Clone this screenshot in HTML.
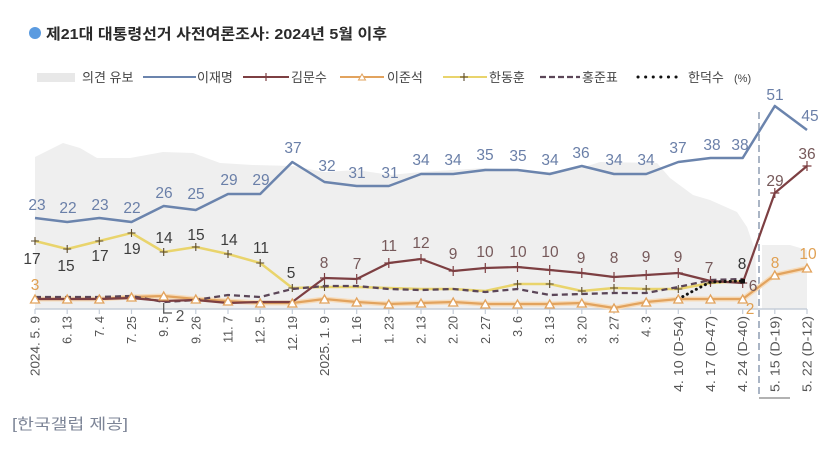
<!DOCTYPE html>
<html>
<head>
<meta charset="utf-8">
<style>
  html,body{margin:0;padding:0;background:#fff;}
  svg{display:block;}
  text{font-family:"Liberation Sans","Noto Sans CJK KR",sans-serif;}
</style>
</head>
<body>
<svg width="835" height="453" viewBox="0 0 835 453" xmlns="http://www.w3.org/2000/svg">
  <rect width="835" height="453" fill="#fff"/>

  <!-- Title -->
  <circle cx="35" cy="33" r="6" fill="#5b9be0"/>
  <text x="46" y="39" font-size="15" font-weight="bold" fill="#2a2a2a" textLength="341" lengthAdjust="spacingAndGlyphs">제21대 대통령선거 사전여론조사: 2024년 5월 이후</text>

  <!-- Legend -->
  <g font-size="13" fill="#444">
    <rect x="37" y="73" width="38" height="9" fill="#e8e8e8"/>
    <text x="82" y="82">의견 유보</text>
    <line x1="143" y1="77" x2="196" y2="77" stroke="#6b84ad" stroke-width="2"/>
    <text x="197" y="82">이재명</text>
    <line x1="243" y1="77" x2="289" y2="77" stroke="#7d3f42" stroke-width="2"/>
    <path d="M266,73 V81" stroke="#7d3f42" stroke-width="1.2"/>
    <text x="291" y="82">김문수</text>
    <line x1="340" y1="77" x2="384" y2="77" stroke="#e2a35e" stroke-width="2"/>
    <polygon points="358.5,80 365.5,80 362,74" fill="#fff" stroke="#e2a35e" stroke-width="1"/>
    <text x="387" y="82">이준석</text>
    <line x1="443" y1="77" x2="487" y2="77" stroke="#e9d46c" stroke-width="2"/>
    <path d="M464,73 V81 M460,77 H468" stroke="#5a4a30" stroke-width="1.1"/>
    <text x="489" y="82">한동훈</text>
    <line x1="540" y1="77" x2="580" y2="77" stroke="#5b4658" stroke-width="2.3" stroke-dasharray="6 3"/>
    <text x="582" y="82">홍준표</text>
    <line x1="638" y1="77" x2="680" y2="77" stroke="#111" stroke-width="3" stroke-dasharray="0.1 7.5" stroke-linecap="round"/>
    <text x="688" y="82">한덕수</text>
    <text x="734" y="82" font-size="11">(%)</text>
  </g>

  <!-- Gray "의견 유보" area -->
  <polygon fill="#efefef" points="35,157 63,143 80,148 97,158 130,158 163,152 193,153 220,163 253,165 293,166 324,172 357,170 390,175 421,172 453,170 485,168 518,170 550,172 581,168 600,162 657,163 670,178 693,195 710,200 737,212 747,227 755,250 758,309 35,309"/>
  <polygon fill="#efefef" points="762,245 790,245 807,250 807,309 762,309"/>

  <!-- vertical dashed separator -->
  <line x1="759" y1="112" x2="759" y2="398" stroke="#aab5c5" stroke-width="2" stroke-dasharray="7 4"/>
  <path d="M759,398 H790" stroke="#666" stroke-width="1"/>

  <!-- X axis -->
  <line x1="35" y1="309" x2="807" y2="309" stroke="#c5cdd8" stroke-width="1.5"/>
  <g stroke="#c5cdd8" stroke-width="1.2">
    <path d="M35,309V314M67.2,309V314M99.3,309V314M131.5,309V314M163.7,309V314M195.8,309V314M228,309V314M260.2,309V314M292.3,309V314M324.5,309V314M356.7,309V314M388.8,309V314M421,309V314M453.2,309V314M485.3,309V314M517.5,309V314M549.7,309V314M581.8,309V314M614,309V314M646.2,309V314M678.3,309V314M710.5,309V314M742.7,309V314M774.8,309V314M807,309V314"/>
  </g>

  <!-- Tick labels -->
  <g font-size="12.5" fill="#555" text-anchor="end">
    <text transform="translate(39.5,316) rotate(-90)" textLength="60" lengthAdjust="spacingAndGlyphs">2024. 5. 9</text>
    <text transform="translate(71.7,316) rotate(-90)">6. 13</text>
    <text transform="translate(103.8,316) rotate(-90)">7. 4</text>
    <text transform="translate(136,316) rotate(-90)">7. 25</text>
    <text transform="translate(168.2,316) rotate(-90)">9. 5</text>
    <text transform="translate(200.3,316) rotate(-90)">9. 26</text>
    <text transform="translate(232.5,316) rotate(-90)">11. 7</text>
    <text transform="translate(264.7,316) rotate(-90)">12. 5</text>
    <text transform="translate(296.8,316) rotate(-90)">12. 19</text>
    <text transform="translate(329,316) rotate(-90)" textLength="60" lengthAdjust="spacingAndGlyphs">2025. 1. 9</text>
    <text transform="translate(361.2,316) rotate(-90)">1. 16</text>
    <text transform="translate(393.3,316) rotate(-90)">1. 23</text>
    <text transform="translate(425.5,316) rotate(-90)">2. 13</text>
    <text transform="translate(457.7,316) rotate(-90)">2. 20</text>
    <text transform="translate(489.8,316) rotate(-90)">2. 27</text>
    <text transform="translate(522,316) rotate(-90)">3. 6</text>
    <text transform="translate(554.2,316) rotate(-90)">3. 13</text>
    <text transform="translate(586.3,316) rotate(-90)">3. 20</text>
    <text transform="translate(618.5,316) rotate(-90)">3. 27</text>
    <text transform="translate(650.7,316) rotate(-90)">4. 3</text>
    <text transform="translate(682.8,316) rotate(-90)" textLength="76" lengthAdjust="spacingAndGlyphs">4. 10 (D-54)</text>
    <text transform="translate(715,316) rotate(-90)" textLength="76" lengthAdjust="spacingAndGlyphs">4. 17 (D-47)</text>
    <text transform="translate(747.2,316) rotate(-90)" textLength="76" lengthAdjust="spacingAndGlyphs">4. 24 (D-40)</text>
    <text transform="translate(779.3,316) rotate(-90)" textLength="76" lengthAdjust="spacingAndGlyphs">5. 15 (D-19)</text>
    <text transform="translate(811.5,316) rotate(-90)" textLength="76" lengthAdjust="spacingAndGlyphs">5. 22 (D-12)</text>
  </g>

  <!-- 이준석 (orange) -->
  <polyline fill="none" stroke="#f6dcbc" stroke-width="5" stroke-linejoin="round" points="35,299 67.2,299 99.3,299 131.5,297 163.7,296 195.8,299 228,301 260.2,303 292.3,303 324.5,299 356.7,302 388.8,304 421,303 453.2,302 485.3,304 517.5,304 549.7,304 581.8,303 614,308 646.2,302 678.3,299 710.5,299 742.7,299 774.8,275 807,268"/>
  <polyline fill="none" stroke="#e2a35e" stroke-width="2.2" stroke-linejoin="round" points="35,299 67.2,299 99.3,299 131.5,297 163.7,296 195.8,299 228,301 260.2,303 292.3,303 324.5,299 356.7,302 388.8,304 421,303 453.2,302 485.3,304 517.5,304 549.7,304 581.8,303 614,308 646.2,302 678.3,299 710.5,299 742.7,299 774.8,275 807,268"/>

  <!-- 한동훈 (yellow) -->
  <polyline fill="none" stroke="#e9d46c" stroke-width="2.5" stroke-linejoin="round" points="35,241 67.2,249 99.3,241 131.5,233 163.7,252 195.8,247 228,254 260.2,263 292.3,288 324.5,287 356.7,287 388.8,288 421,289 453.2,289 485.3,291 517.5,284 549.7,284 581.8,291 614,288 646.2,289 678.3,289 710.5,283 742.7,281"/>
  <path stroke="#5a4a30" stroke-width="1.1" fill="none" d="M35,237v8M31,241h8 M67.2,245v8M63.2,249h8 M99.3,237v8M95.3,241h8 M131.5,229v8M127.5,233h8 M163.7,248v8M159.7,252h8 M195.8,243v8M191.8,247h8 M228,250v8M224,254h8 M260.2,259v8M256.2,263h8 M292.3,284v8M288.3,288h8 M324.5,283v8M320.5,287h8 M517.5,280v8M513.5,284h8 M549.7,280v8M545.7,284h8 M581.8,287v8M577.8,291h8 M614,284v8M610,288h8 M646.2,285v8M642.2,289h8 M678.3,285v8M674.3,289h8 M710.5,279v8M706.5,283h8"/>

  <!-- 홍준표 (dashed) -->
  <polyline fill="none" stroke="#5b4658" stroke-width="2.3" stroke-dasharray="6 4" stroke-linejoin="round" points="35,297 67.2,297 99.3,297 131.5,296 163.7,302 195.8,300 228,295 260.2,297 292.3,289 324.5,286 356.7,286 388.8,289 421,290 453.2,289 485.3,292 517.5,289 549.7,295 581.8,294 614,293 646.2,293 678.3,287 710.5,280 742.7,279"/>

  <!-- 김문수 (dark red) -->
  <polyline fill="none" stroke="#7d3f42" stroke-width="2.2" stroke-linejoin="round" points="35,299 67.2,299 99.3,299 131.5,298 163.7,301 195.8,300 228,303 260.2,302 292.3,302 324.5,278 356.7,279 388.8,263 421,259 453.2,271 485.3,268 517.5,267 549.7,270 581.8,273 614,277 646.2,275 678.3,273 710.5,281 742.7,283 774.8,193 807,166"/>
  <path stroke="#7d3f42" stroke-width="1.2" fill="none" d="M324.5,273v10M320,278h9 M356.7,274v10M352.2,279h9 M388.8,258v10M384.3,263h9 M421,254v10M416.5,259h9 M453.2,266v10M448.7,271h9 M485.3,263v10M480.8,268h9 M517.5,262v10M513,267h9 M549.7,265v10M545.2,270h9 M581.8,268v10M577.3,273h9 M614,272v10M609.5,277h9 M646.2,270v10M641.7,275h9 M678.3,268v10M673.8,273h9 M710.5,276v10M706,281h9 M742.7,278v10M738.2,283h9 M774.8,188v10M770.3,193h9 M807,161v10M802.5,166h9"/>

  <!-- 한덕수 (dotted) -->
  <polyline fill="none" stroke="#111" stroke-width="3" stroke-dasharray="0.1 5" stroke-linecap="round" points="678.3,299 695,290 710.5,282 742.7,281"/>
  <rect x="676" y="297" width="4.5" height="4.5" fill="#111"/>
  <rect x="740.5" y="279" width="4.5" height="4.5" fill="#111"/>

  <!-- orange triangles -->
  <g fill="#fff" stroke="#e2a35e" stroke-width="1.3">
    <polygon points="30.5,303 39.5,303 35,295"/>
    <polygon points="62.7,303 71.7,303 67.2,295"/>
    <polygon points="94.8,303 103.8,303 99.3,295"/>
    <polygon points="127,301 136,301 131.5,293"/>
    <polygon points="159.2,300 168.2,300 163.7,292"/>
    <polygon points="191.3,303 200.3,303 195.8,295"/>
    <polygon points="223.5,305 232.5,305 228,297"/>
    <polygon points="255.7,307 264.7,307 260.2,299"/>
    <polygon points="287.8,307 296.8,307 292.3,299"/>
    <polygon points="320,303 329,303 324.5,295"/>
    <polygon points="352.2,306 361.2,306 356.7,298"/>
    <polygon points="384.3,308 393.3,308 388.8,300"/>
    <polygon points="416.5,307 425.5,307 421,299"/>
    <polygon points="448.7,306 457.7,306 453.2,298"/>
    <polygon points="480.8,308 489.8,308 485.3,300"/>
    <polygon points="513,308 522,308 517.5,300"/>
    <polygon points="545.2,308 554.2,308 549.7,300"/>
    <polygon points="577.3,307 586.3,307 581.8,299"/>
    <polygon points="609.5,312 618.5,312 614,304"/>
    <polygon points="641.7,306 650.7,306 646.2,298"/>
    <polygon points="673.8,303 682.8,303 678.3,295"/>
    <polygon points="706,303 715,303 710.5,295"/>
    <polygon points="738.2,303 747.2,303 742.7,295"/>
    <polygon points="770.3,279 779.3,279 774.8,271"/>
    <polygon points="802.5,272 811.5,272 807,264"/>
  </g>

  <!-- 이재명 (blue) -->
  <polyline fill="none" stroke="#6b84ad" stroke-width="2.5" stroke-linejoin="round" points="35,218 67.2,222 99.3,218 131.5,222 163.7,206 195.8,210 228,194 260.2,194 292.3,162 324.5,182 356.7,186 388.8,186 421,174 453.2,174 485.3,170 517.5,170 549.7,174 581.8,166 614,174 646.2,174 678.3,162 710.5,158 742.7,158 774.8,106 807,130"/>

  <!-- Blue labels -->
  <g font-size="15.5" fill="#6a7fa8" text-anchor="middle">
    <text x="37" y="210">23</text>
    <text x="68" y="213">22</text>
    <text x="100" y="210">23</text>
    <text x="132" y="213">22</text>
    <text x="164" y="198">26</text>
    <text x="196" y="199">25</text>
    <text x="229" y="185">29</text>
    <text x="261" y="185">29</text>
    <text x="293" y="153">37</text>
    <text x="327" y="171">32</text>
    <text x="357" y="178">31</text>
    <text x="390" y="178">31</text>
    <text x="421" y="165">34</text>
    <text x="453" y="165">34</text>
    <text x="485" y="160">35</text>
    <text x="518" y="161">35</text>
    <text x="550" y="165">34</text>
    <text x="581" y="158">36</text>
    <text x="614" y="165">34</text>
    <text x="646" y="165">34</text>
    <text x="678" y="153">37</text>
    <text x="712" y="150">38</text>
    <text x="740" y="150">38</text>
    <text x="775" y="100">51</text>
    <text x="810" y="121">45</text>
  </g>

  <!-- Yellow (한동훈) labels -->
  <g font-size="15.5" fill="#3d3d3d" text-anchor="middle">
    <text x="32" y="264">17</text>
    <text x="66" y="271">15</text>
    <text x="100" y="261">17</text>
    <text x="132" y="254">19</text>
    <text x="164" y="243">14</text>
    <text x="196" y="240">15</text>
    <text x="229" y="245">14</text>
    <text x="261" y="253">11</text>
    <text x="291" y="278">5</text>
  </g>

  <!-- 김문수 labels -->
  <g font-size="15.5" fill="#76595a" text-anchor="middle">
    <text x="324" y="268">8</text>
    <text x="357" y="269">7</text>
    <text x="389" y="251">11</text>
    <text x="421" y="248">12</text>
    <text x="453" y="259">9</text>
    <text x="485" y="257">10</text>
    <text x="518" y="257">10</text>
    <text x="550" y="257">10</text>
    <text x="581" y="263">9</text>
    <text x="614" y="263">8</text>
    <text x="646" y="262">9</text>
    <text x="678" y="262">9</text>
    <text x="709" y="273">7</text>
    <text x="753" y="291">6</text>
    <text x="775" y="186">29</text>
    <text x="807" y="159">36</text>
  </g>

  <!-- 한덕수 label -->
  <text x="742" y="269" font-size="15.5" fill="#333" text-anchor="middle">8</text>

  <!-- Orange labels -->
  <g font-size="15.5" fill="#e0a052" text-anchor="middle">
    <text x="35" y="290">3</text>
    <text x="750" y="314">2</text>
    <text x="775" y="268">8</text>
    <text x="808" y="259">10</text>
  </g>

  <!-- gray "2" callout -->
  <path d="M163.7,303 V313 H172" stroke="#555" stroke-width="1.2" fill="none"/>
  <text x="180" y="321" font-size="15.5" fill="#555" text-anchor="middle">2</text>

  <!-- Footer -->
  <text x="12" y="429" font-size="15" fill="#7d8597" textLength="116" lengthAdjust="spacingAndGlyphs">[한국갤럽 제공]</text>
</svg>
</body>
</html>
